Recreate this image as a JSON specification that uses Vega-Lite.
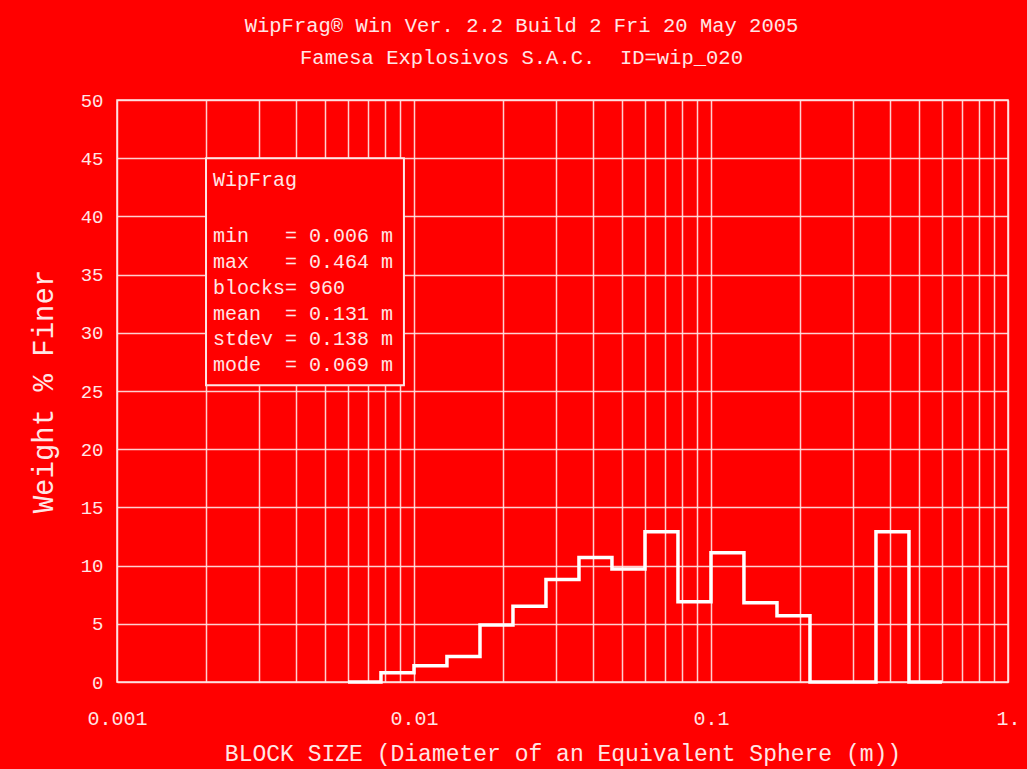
{
  "$schema": "https://vega.github.io/schema/vega-lite/v6.json",
  "autosize": {"type": "none"},
  "width": 891,
  "height": 582,
  "padding": {"left": 117, "top": 100, "right": 19, "bottom": 87},
  "background": "#ff0000",
  "config": {
    "font": "Liberation Mono",
    "view": {"stroke": "#ffe6e6", "strokeWidth": 1.5, "fill": "#ff0000"},
    "axis": {
      "labelFont": "Liberation Mono",
      "titleFont": "Liberation Mono",
      "labelColor": "#ffe6e6",
      "titleColor": "#ffe6e6",
      "titleFontWeight": "normal",
      "gridColor": "#ffe6e6",
      "gridWidth": 1.5,
      "gridOpacity": 0.9,
      "ticks": false,
      "domain": false
    }
  },
  "title": {
    "text": ["WipFrag® Win Ver. 2.2 Build 2 Fri 20 May 2005", "Famesa Explosivos S.A.C.\u00a0\u00a0ID=wip_020"],
    "font": "Liberation Mono",
    "fontSize": 20.5,
    "fontWeight": "normal",
    "color": "#ffe6e6",
    "lineHeight": 32,
    "anchor": "middle",
    "dx": -41,
    "offset": 23
  },
  "datasets": {
    "hist": [
      {"size": 0.005994, "pct": 0},
      {"size": 0.007741, "pct": 0.8},
      {"size": 0.01, "pct": 1.4},
      {"size": 0.01291, "pct": 2.2},
      {"size": 0.01668, "pct": 4.9},
      {"size": 0.02154, "pct": 6.5},
      {"size": 0.02782, "pct": 8.8},
      {"size": 0.03593, "pct": 10.7},
      {"size": 0.0464, "pct": 9.7},
      {"size": 0.05994, "pct": 12.9},
      {"size": 0.07741, "pct": 6.9},
      {"size": 0.09998, "pct": 11.1},
      {"size": 0.1291, "pct": 6.8},
      {"size": 0.1668, "pct": 5.7},
      {"size": 0.2154, "pct": 0},
      {"size": 0.2782, "pct": 0},
      {"size": 0.3593, "pct": 12.9},
      {"size": 0.464, "pct": 0},
      {"size": 0.5993, "pct": 0}
    ],
    "stats": [
      {"box": "WipFrag", "lo": 0.001994, "hi": 0.00925, "top": 45, "bottom": 25.5}
    ]
  },
  "layer": [
    {
      "data": {"name": "hist"},
      "mark": {"type": "line", "interpolate": "step-after", "color": "#ffffff", "strokeWidth": 3.5},
      "encoding": {
        "x": {
          "field": "size",
          "type": "quantitative",
          "scale": {"type": "log", "domain": [0.001, 1]},
          "axis": {
            "values": [0.001, 0.002, 0.003, 0.004, 0.005, 0.006, 0.007, 0.008, 0.009,
                       0.01, 0.02, 0.03, 0.04, 0.05, 0.06, 0.07, 0.08, 0.09,
                       0.1, 0.2, 0.3, 0.4, 0.5, 0.6, 0.7, 0.8, 0.9, 1],
            "labelExpr": "datum.value == 0.001 ? '0.001' : datum.value == 0.01 ? '0.01' : datum.value == 0.1 ? '0.1' : datum.value == 1 ? '1.' : ''",
            "labelOverlap": false,
            "labelFlush": false,
            "labelFontSize": 20,
            "labelPadding": 26,
            "title": "BLOCK SIZE (Diameter of an Equivalent Sphere (m))",
            "titleFontSize": 23,
            "titlePadding": 14
          }
        },
        "y": {
          "field": "pct",
          "type": "quantitative",
          "scale": {"domain": [0, 50], "nice": false},
          "axis": {
            "values": [0, 5, 10, 15, 20, 25, 30, 35, 40, 45, 50],
            "labelFontSize": 19,
            "labelPadding": 14,
            "title": "Weight % Finer",
            "titleFontSize": 29,
            "titlePadding": 22
          }
        }
      }
    },
    {
      "data": {"name": "stats"},
      "mark": {"type": "rect", "fill": "#ff0000", "stroke": "#ffe6e6", "strokeWidth": 2},
      "encoding": {
        "x": {"field": "lo", "type": "quantitative"},
        "x2": {"field": "hi"},
        "y": {"field": "top", "type": "quantitative"},
        "y2": {"field": "bottom"}
      }
    },
    {
      "data": {"name": "stats"},
      "mark": {
        "type": "text",
        "align": "left",
        "baseline": "top",
        "font": "Liberation Mono",
        "fontSize": 20,
        "color": "#ffe6e6",
        "dx": 7,
        "dy": 12
      },
      "encoding": {
        "text": {"field": "box"},
        "x": {"field": "lo", "type": "quantitative"},
        "y": {"field": "top", "type": "quantitative"}
      }
    },
    {
      "data": {"name": "stats"},
      "mark": {
        "type": "text",
        "align": "left",
        "baseline": "top",
        "font": "Liberation Mono",
        "fontSize": 20,
        "lineHeight": 25.8,
        "color": "#ffe6e6",
        "dx": 7,
        "dy": 68,
        "text": ["min\u00a0\u00a0\u00a0=\u00a00.006\u00a0m", "max\u00a0\u00a0\u00a0=\u00a00.464\u00a0m", "blocks=\u00a0960", "mean\u00a0\u00a0=\u00a00.131\u00a0m", "stdev\u00a0=\u00a00.138\u00a0m", "mode\u00a0\u00a0=\u00a00.069\u00a0m"]
      },
      "encoding": {
        "x": {"field": "lo", "type": "quantitative"},
        "y": {"field": "top", "type": "quantitative"}
      }
    }
  ]
}
